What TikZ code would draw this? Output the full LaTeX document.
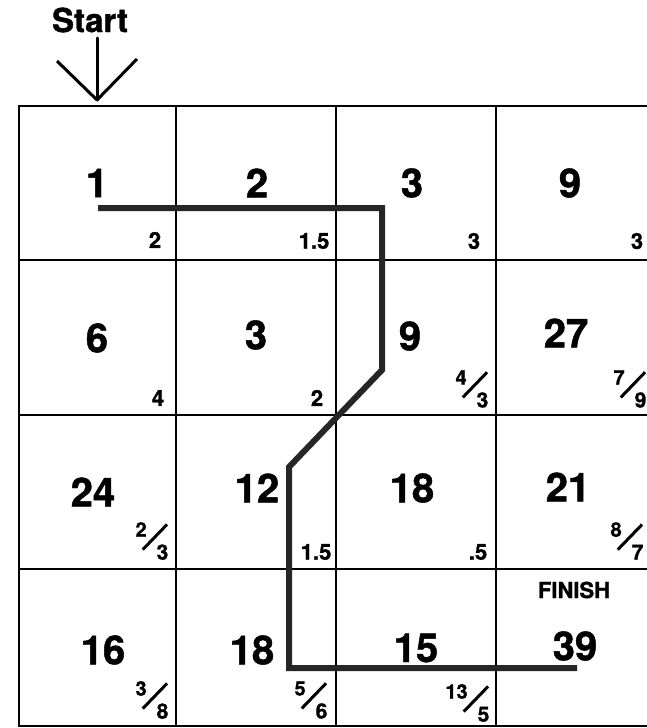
\documentclass[tikz,border=0pt]{standalone}
\usepackage{fontspec}
\setmainfont{TeX Gyre Heros}[BoldFeatures={FakeBold=1.2}]
\newcommand{\slfrac}[2]{%
	\llap{\raisebox{23pt}{\fontsize{20}{20}\selectfont#1}\kern-5pt}%
	\rlap{\raisebox{9pt}{\rotatebox{46}{\rule{35pt}{3pt}}}}%
	\kern15pt{\fontsize{21}{21}\selectfont#2}}
\tikzset{
	big/.style={font=\bfseries\fontsize{40}{40}\selectfont,inner sep=0pt},
	small/.style={font=\bfseries\fontsize{22}{22}\selectfont,inner sep=0pt},
	gridline/.style={line width=2pt,black},
	route/.style={line width=6pt,black!85,line join=miter,line cap=butt}
}
\begin{document}
\begin{tikzpicture}[x=1pt,y=-1pt,line join=round,line cap=round]
	\useasboundingbox (0,0) rectangle (647,728);
	\clip (0,0) rectangle (647,728);
	\fill[white] (0,0) rectangle (647,728);
	% grid
	\foreach \x in {19,176,336,496,656}
	\draw[gridline] (\x,106) -- (\x,726);
	\foreach \y in {106,260,415,569,726}
	\draw[gridline] (19,\y) -- (656,\y);
	% route
	\draw[route] (98,208) -- (382,208) -- (382,370) -- (289,467) -- (289,668) -- (577,668);
	% start arrow
	\node[font=\bfseries\fontsize{33}{33}\selectfont,inner sep=0pt] (start) at (90,20) {Start};
	\coordinate (tip) at (97,100);
	\draw[line width=3pt] (97,38) -- (tip);
	\draw[line width=3pt,line cap=butt] (57,61) -- (tip) -- (137,59);
	% cell values
	\path
	(97,183) node[big] (v11) {1}
	(257,183) node[big] (v12) {2}
	(412,183) node[big] (v13) {3}
	(570,183) node[big] (v14) {9}
	(97,338) node[big] (v21) {6}
	(256,335) node[big] (v22) {3}
	(410,336) node[big] (v23) {9}
	(566,333) node[big] (v24) {27}
	(93,492) node[big] (v31) {24}
	(257,488) node[big] (v32) {12}
	(412,488) node[big] (v33) {18}
	(568,487) node[big] (v34) {21}
	(103,650) node[big] (v41) {16}
	(252,650) node[big] (v42) {18}
	(416,648) node[big] (v43) {15}
	(575,646) node[big] (v44) {39}
	;
	% costs
	\path
	(155,240) node[small] (c11) {2}
	(314,241) node[small] (c12) {1.5}
	(474,241) node[small] (c13) {3}
	(637,241) node[small] (c14) {3}
	(158,398) node[small] (c21) {4}
	(317,398) node[small] (c22) {2}
	(475,389) node[small] (c23) {\slfrac{4}{3}}
	(633,389) node[small] (c24) {\slfrac{7}{9}}
	(155,541) node[small] (c31) {\slfrac{2}{3}}
	(316,552) node[small] (c32) {1.5}
	(478,552) node[small] (c33) {.5}
	(630,541) node[small] (c34) {\slfrac{8}{7}}
	(155,700) node[small] (c41) {\slfrac{3}{8}}
	(314,700) node[small] (c42) {\slfrac{5}{6}}
	(476,703) node[small] (c43) {\slfrac{13}{5}}
	(574,590) node[small] (finish) {FINISH}
	;
\end{tikzpicture}
\end{document}
